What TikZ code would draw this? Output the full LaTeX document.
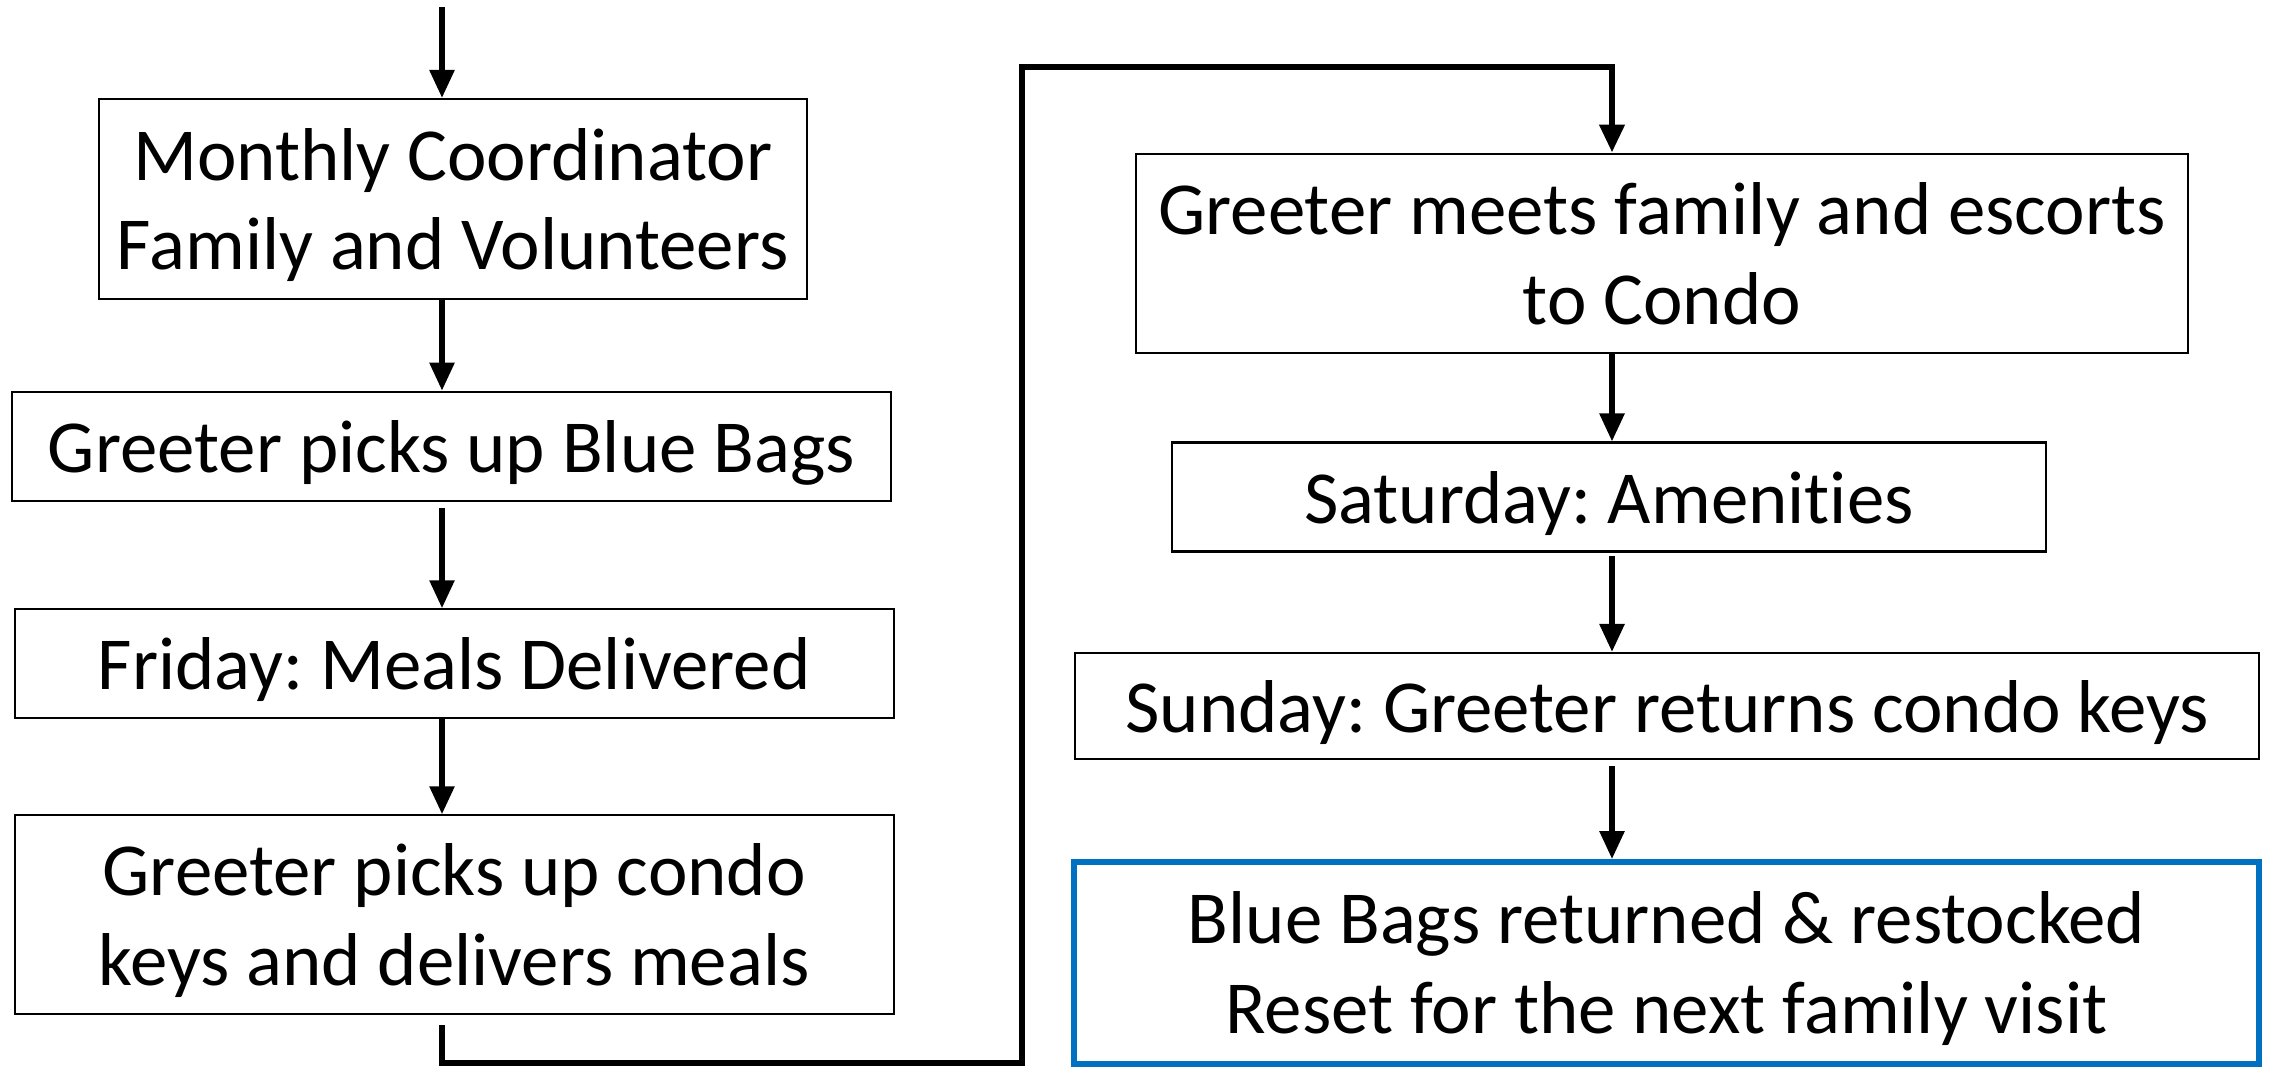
\documentclass[tikz,border=0pt]{standalone}
\usepackage{fontspec}
\setmainfont{Carlito}[Ligatures=NoCommon]
\usetikzlibrary{arrows.meta}
\definecolor{bagblue}{RGB}{0,112,192}
\begin{document}
\begin{tikzpicture}[box/.style={draw, line width=0.6pt, align=center, inner sep=0pt, text depth=0pt, font=\fontsize{21.3}{25.6}\selectfont\frenchspacing},
        last box/.style={box, draw=bagblue, line width=1.7pt},
        flow/.style={line width=1.6pt, -{Triangle[length=2.8mm,width=2.4mm]}},
        return line/.style={flow, line width=1.9pt},]
        \useasboundingbox (0,0) rectangle (22.75,-10.67);
        \coordinate (lcol) at (4.42,0);
        \coordinate (rcol) at (16.12,0);
        \coordinate (start) at (4.42,-0.07);
        \coordinate (low turn) at (10.22,-10.63);
        \coordinate (high turn) at (10.22,-0.67);
        \node[box, minimum width=7.08cm, minimum height=2.00cm] (monthly) at (4.527,-1.99) {Monthly Coordinator\\Family and Volunteers};
        \node[box, minimum width=8.79cm, minimum height=1.09cm] (bags) at (4.513,-4.462) {Greeter picks up Blue Bags};
        \node[box, minimum width=8.79cm, minimum height=1.09cm] (friday) at (4.541,-6.638) {Friday: Meals Delivered};
        \node[box, minimum width=8.79cm, minimum height=1.99cm] (keys) at (4.541,-9.148) {Greeter picks up condo\\keys and delivers meals};
        \node[box, minimum width=10.52cm, minimum height=1.99cm] (escort) at (16.62,-2.532) {Greeter meets family and escorts\\to Condo};
        \node[box, minimum width=8.74cm, minimum height=1.09cm] (saturday) at (16.09,-4.97) {Saturday: Amenities};
        \node[box, minimum width=11.84cm, minimum height=1.06cm] (sunday) at (16.67,-7.06) {Sunday: Greeter returns condo keys};
        \node[last box, minimum width=11.85cm, minimum height=2.015cm] (reset) at (16.665,-9.628) {Blue Bags returned \& restocked\\Reset for the next family visit};
        \draw[flow] (start) -- (monthly.north -| lcol);
        \draw[flow] (monthly.south -| lcol) -- (bags.north -| lcol);
        \draw[flow] ([yshift=-0.6mm]bags.south -| lcol) -- (friday.north -| lcol);
        \draw[flow] (friday.south -| lcol) -- (keys.north -| lcol);
        \draw[return line] ([yshift=-1mm]keys.south -| lcol) |- (low turn) -- (high turn) -| (escort.north -| rcol);
        \draw[flow] (escort.south -| rcol) -- (saturday.north -| rcol);
        \draw[flow] ([yshift=-0.3mm]saturday.south -| rcol) -- (sunday.north -| rcol);
        \draw[flow] ([yshift=-0.6mm]sunday.south -| rcol) -- (reset.north -| rcol);
     \end{tikzpicture}
\end{document}
